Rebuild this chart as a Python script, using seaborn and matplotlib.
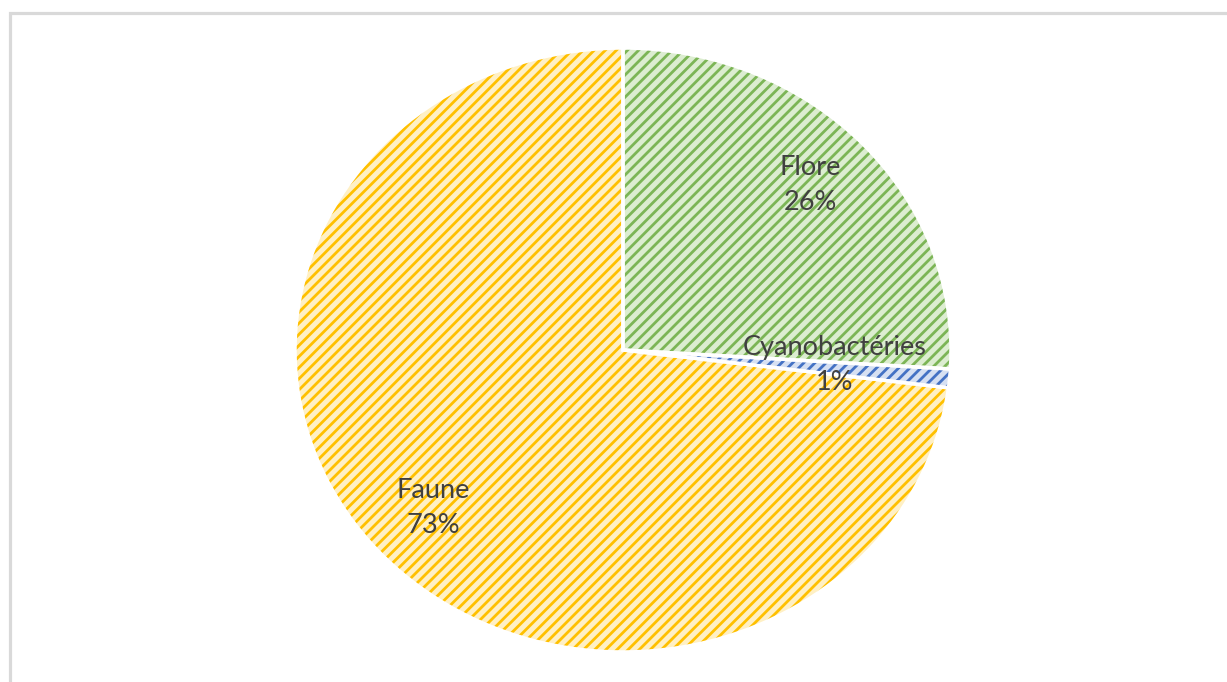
import matplotlib
matplotlib.use("Agg")
import matplotlib.pyplot as plt
from matplotlib.patches import Rectangle
import seaborn as sns

# Share of taxa by group (percent)
categories = ["Flore", "Cyanobactéries", "Faune"]
shares = [26, 1, 73]

line_colors = sns.color_palette(["#7cb556", "#4472c4", "#ffc000"])
fill_colors = ["#dcedd0", "#d6e0f2", "#fff0c4"]

sns.set_theme(style="white")
plt.rcParams["font.family"] = ["Lato", "DejaVu Sans"]
plt.rcParams["hatch.linewidth"] = 2.0

W, H = 1227, 682
fig = plt.figure(figsize=(W / 100, H / 100), dpi=100)
ax = fig.add_axes([0, 0, 1, 1])

# hatched wedges: edge colour drives the hatch colour
wedges, _ = ax.pie(shares, startangle=90, counterclock=False,
                   colors=fill_colors, radius=1.0)
for w, lc in zip(wedges, line_colors):
    w.set_edgecolor(lc)
    w.set_linewidth(0)
    w.set_hatch("///")

# white separators drawn on top
outline, _ = ax.pie(shares, startangle=90, counterclock=False, radius=1.0,
                    wedgeprops=dict(facecolor="none", edgecolor="white",
                                    linewidth=2.5))

# stretch the pie into the same oval as the chart area
cx, cy, rx, ry = 623, 350, 328, 302
ax.set_aspect("auto")
ax.set_xlim(-cx / rx, (W - cx) / rx)
ax.set_ylim(-(H - cy) / ry, cy / ry)
ax.axis("off")

label_pos = {"Flore": (0.570, 0.546),
             "Cyanobactéries": (0.646, -0.050),
             "Faune": (-0.579, -0.523)}
for name, val in zip(categories, shares):
    x, y = label_pos[name]
    ax.text(x, y, f"{name}\n{val}%", ha="center", va="center",
            fontsize=19.5, color="#404040", linespacing=1.5)

# chart-area frame (top and left edges visible)
frame = Rectangle((9.5 / W, -0.1), 1.2, (H - 12.5) / H + 0.1,
                  transform=fig.transFigure, fill=False,
                  edgecolor="#d9d9d9", linewidth=2.3, clip_on=False)
fig.patches.append(frame)

fig.savefig("out.png", dpi=100, facecolor="white")
